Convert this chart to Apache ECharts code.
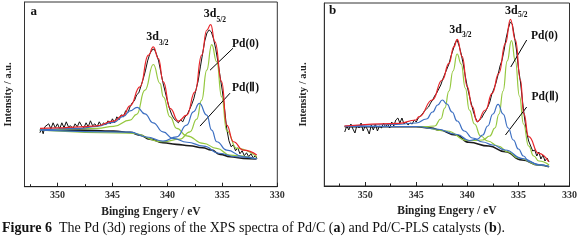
<!DOCTYPE html>
<html>
<head>
<meta charset="utf-8">
<script src="https://cdn.jsdelivr.net/npm/echarts@6/dist/echarts.min.js"></script>
<style>
html, body { margin: 0; padding: 0; background: #fff; }
#chart { width: 580px; height: 241px; }
</style>
</head>
<body>
<div id="chart"></div>
<script>
// energy axis ticks (eV)
const majorTicks = [350, 345, 340, 335, 330];
const minorTicks = [352.5, 347.5, 342.5, 337.5, 332.5];

// ---- panel a : Pd/C  ([binding energy, intensity]) ----
const aRaw = [
  [351.6,54],[351.45,58],[351.3,53],[351.15,60],[351.0,59],[350.8,63],[350.6,58],[350.4,64],[350.2,59],[350.0,63],
  [349.8,58],[349.6,64],[349.4,59],[349.2,65],[349.0,60],[348.8,61],[348.6,58],[348.4,63],[348.2,60],[348.0,65],
  [347.8,61],[347.6,59],[347.4,64],[347.2,60],[347.0,66],[346.8,61],[346.6,63],[346.4,60],[346.2,65],[346.0,61],
  [345.8,64],[345.6,62],[345.4,66],[345.2,63],[345.0,68],[344.8,64],[344.6,70],[344.4,67],[344.2,72],[344.0,70],
  [343.8,76],[343.6,74],[343.4,80],[343.2,84],[343.0,86],[342.8,92],[342.6,94],[342.4,101],[342.2,108],[342.0,116],
  [341.8,126],[341.6,133],[341.4,137],[341.2,138],[341.0,133],[340.8,126],[340.6,115],[340.4,104],[340.2,95],[340.0,86],
  [339.8,78],[339.6,72],[339.4,68],[339.2,66],[339.0,64],[338.8,67],[338.6,65],[338.4,70],[338.2,72],[338.0,77],
  [337.8,82],[337.6,88],[337.4,97],[337.2,106],[337.0,120],[336.8,133],[336.6,146],[336.4,154],[336.2,157],[336.0,155],
  [335.8,148],[335.6,138],[335.4,125],[335.2,110],[335.0,96],[334.8,78],[334.6,58],[334.4,46],[334.2,40],[334.0,42],
  [333.8,36],[333.6,39],[333.4,33],[333.2,36],[333.0,31],[332.8,34],[332.6,30],[332.4,33],[332.2,29],[332.0,31],[331.85,28]
];
const aEnvelope = [
  [351.59,58.4],[350.07,59],[347.95,60],[346.43,61],[344.92,65.7],[344.01,71.7],[343.4,81],[342.49,100],
  [341.73,131.7],[341.28,140],[340.82,128.4],[340.37,105],[339.76,78.4],[339.0,65.7],[338.24,71.7],[337.49,95],
  [336.88,131.7],[336.42,156.7],[336.06,162.4],[335.67,145],[335.06,105],[334.6,61.7],[334.0,45],[333.09,36.7],[331.87,31.7]
];
const aPd0_32 = [
  [351.6,56.7],[346.4,58.4],[344.9,60.4],[343.4,66.7],[342.8,72.4],[342.04,96.7],[341.28,122.4],[340.67,103.4],
  [340.37,90],[339.76,70],[339.15,58.4],[338.24,51],[336.73,43.4],[335.51,38.4],[334.3,31.7],[331.87,28]
];
const aPd0_52 = [
  [351.6,56.7],[343.4,53.7],[340.37,45],[338.85,47.7],[337.94,55],[337.33,67.7],[336.88,86.7],[336.42,116.7],
  [335.97,142.4],[335.51,125],[335.06,90],[334.6,56],[333.69,38.4],[331.87,30]
];
const aPd2_32 = [
  [351.6,56.8],[348.0,58.5],[346.4,60.5],[344.9,64.5],[344.0,70.5],[343.4,76],[342.75,79.4],[342.05,73],
  [341.3,64],[340.4,55],[339.5,48.5],[338.2,44.5],[336.7,40.7],[335.3,33.5],[333.8,30],[331.9,28]
];
const aPd2_52 = [
  [351.6,56.7],[343.4,54.6],[341.9,49.8],[340.4,45.6],[339.15,50],[338.24,61.7],[337.64,75],[337.09,83.4],
  [336.42,71.7],[335.97,56.7],[335.51,45],[334.6,36.7],[333.09,30],[331.87,27.7]
];
const aBackground = [
  [351.6,56.7],[348.0,56.7],[344.9,55.7],[343.4,54.4],[342.5,51.7],[341.6,47.7],[340.4,44],[339.2,42.4],
  [338.0,41],[336.8,39],[336.0,36.7],[335.2,32.4],[334.3,30],[333.1,28.4],[331.9,27.7]
];
const aArrows = [
  [[334.03,138.7],[336.12,116.7]],
  [[334.3,93.7],[337.03,60.7]]
];

// ---- panel b : Pd/C-PLS ----
const bRaw = [
  [352.0,54],[351.8,60],[351.6,56],[351.4,62],[351.2,57],[351.0,53],[350.8,61],[350.6,58],[350.4,63],[350.2,55],
  [350.0,60],[349.8,57],[349.6,52],[349.4,61],[349.2,56],[349.0,62],[348.8,55],[348.6,60],[348.4,58],[348.2,63],
  [348.0,59],[347.8,62],[347.6,58],[347.4,64],[347.2,60],[347.0,66],[346.8,68],[346.6,63],[346.4,68],[346.2,62],
  [346.0,64],[345.8,61],[345.6,63],[345.4,62],[345.2,66],[345.0,64],[344.8,68],[344.6,70],[344.4,72],[344.2,75],
  [344.0,77],[343.8,79],[343.6,83],[343.4,86],[343.2,90],[343.0,93],[342.8,97],[342.6,101],[342.4,107],[342.2,112],
  [342.0,117],[341.8,122],[341.6,130],[341.4,136],[341.2,143],[341.0,146],[340.8,140],[340.6,132],[340.4,122],[340.2,110],
  [340.0,99],[339.8,90],[339.6,82],[339.4,74],[339.2,68],[339.0,64],[338.8,66],[338.6,68],[338.4,72],[338.2,75],
  [338.0,79],[337.8,84],[337.6,92],[337.4,97],[337.2,103],[337.0,111],[336.8,120],[336.6,126],[336.4,136],[336.2,148],
  [336.0,157],[335.8,164],[335.6,162],[335.4,150],[335.2,137],[335.0,118],[334.8,104],[334.6,85],[334.4,68],[334.2,54],
  [334.0,45],[333.8,40],[333.6,35],[333.4,36],[333.2,30],[333.0,34],[332.8,27],[332.6,31],[332.4,25],[332.2,28],[332.0,24]
];
const bEnvelope = [
  [352.04,60],[346.67,62.7],[345.05,66],[344.72,69.3],[343.43,86],[342.45,106],[341.8,122.7],[341.31,139.3],
  [340.99,146.7],[340.5,129.3],[340.01,99.3],[339.52,79.3],[339.04,64.3],[338.22,76],[337.57,92.7],[336.92,112.7],
  [336.27,142.7],[335.78,166.7],[335.29,146],[334.8,106],[334.48,72.7],[334.0,49.3],[333.02,32.7],[332.04,24.3]
];
const bPd0_32 = [
  [352.0,59.5],[344.0,59.5],[343.2,60],[342.6,67],[342.2,78],[341.8,95],[341.4,115],[341.0,132],[340.6,122],
  [340.2,98],[339.8,76],[339.3,62],[338.7,50],[338.0,45],[337.0,40],[336.0,34],[335.0,28],[333.0,21],[332.0,19.5]
];
const bPd0_52 = [
  [352.0,59.5],[345.0,59.5],[342.0,55],[340.0,45.5],[339.3,45.5],[338.5,46],[337.8,50],[337.3,58],[336.9,72],
  [336.5,95],[336.1,125],[335.68,145.3],[335.3,125],[334.9,90],[334.5,62],[334.0,40],[333.5,30],[333.0,25],[332.0,21]
];
const bPd2_32 = [
  [352.0,60],[347.0,61.5],[345.0,63],[344.0,67],[343.4,74],[342.9,81],[342.45,86],[342.0,82],[341.5,74],
  [341.0,65],[340.3,55],[339.5,48],[338.5,44],[337.5,41],[336.3,36],[334.6,27.5],[333.0,21.5],[332.0,19.5]
];
const bPd2_52 = [
  [352.0,59.5],[345.0,59.5],[343.0,57],[341.0,51.5],[339.8,45.5],[339.0,47],[338.5,51],[338.0,60],[337.5,72],
  [336.99,81.7],[336.5,72],[336.0,58],[335.5,46],[335.0,37],[334.5,30],[334.0,24.5],[333.0,21],[332.0,19.5]
];
const bBackground = [
  [352.0,59.3],[345.0,59.3],[343.5,58],[342.8,56],[341.1,51],[339.85,43.7],[337.9,40],[336.3,34.3],
  [334.65,26],[333.0,21],[332.0,19.3]
];
const bArrows = [
  [[334.19,146],[335.75,119]],
  [[334.19,79],[336.27,51]]
];

const SERIF = '"Liberation Serif", "Times New Roman", serif';
const RED = '#e8252a', GREEN = '#95c83f', BLUE = '#3c6fc2', BLACK = '#111';

function curve(data, color, panel, z, opts) {
  return Object.assign({
    type: 'line',
    data: data,
    xAxisIndex: panel * 2,
    yAxisIndex: panel,
    symbol: 'none',
    smooth: 0.5,
    smoothMonotone: 'x',
    lineStyle: { color: color, width: 1.2 },
    itemStyle: { color: color },
    z: z,
    animation: false
  }, opts || {});
}

function arrows(list) {
  return {
    silent: true,
    symbol: ['none', 'arrow'],
    symbolSize: [0, 7],
    label: { show: false },
    emphasis: { disabled: true },
    lineStyle: { color: '#000', width: 1, type: 'solid' },
    data: list.map(p => [{ coord: p[0] }, { coord: p[1] }]),
    animation: false
  };
}

function panelSeries(p, raw, env, pd0a, pd0b, pd2a, pd2b, bg, arr) {
  return [
    curve(raw, BLACK, p, 3, { smooth: false, lineStyle: { color: BLACK, width: 1 } }),
    curve(bg, '#1a1a1a', p, 2, { lineStyle: { color: '#1a1a1a', width: 1.6 } }),
    curve(pd0a, GREEN, p, 4),
    curve(pd0b, GREEN, p, 4),
    curve(pd2a, BLUE, p, 5),
    curve(pd2b, BLUE, p, 5, { markLine: arrows(arr) }),
    curve(env, RED, p, 6)
  ];
}

function xAxes(grid, max) {
  const line = { lineStyle: { color: '#222', width: 1.2 } };
  return [{
    gridIndex: grid, type: 'value', inverse: true, min: 330, max: max, position: 'bottom',
    axisLine: line,
    axisTick: { inside: true, length: 4, customValues: majorTicks, lineStyle: { color: '#222' } },
    axisLabel: { customValues: majorTicks, margin: 4, fontFamily: SERIF, fontWeight: 'bold', fontSize: 10, color: '#333' },
    splitLine: { show: false },
    name: 'Binging Engery / eV', nameLocation: 'middle', nameGap: grid ? 17 : 15,
    nameTextStyle: { fontFamily: SERIF, fontWeight: 'bold', fontSize: 11.5, color: '#222' }
  }, {
    gridIndex: grid, type: 'value', inverse: true, min: 330, max: max, position: 'bottom',
    axisLine: { show: false },
    axisTick: { inside: true, length: 2.5, customValues: minorTicks, lineStyle: { color: '#222' } },
    axisLabel: { show: false },
    splitLine: { show: false }
  }];
}

function yAxis(grid, max, gap) {
  return {
    gridIndex: grid, type: 'value', min: 0, max: max,
    axisLine: { show: true, lineStyle: { color: '#333', width: 1 } },
    axisTick: { show: false }, axisLabel: { show: false }, splitLine: { show: false },
    name: 'Intensity / a.u.', nameLocation: 'middle', nameRotate: 90, nameGap: gap,
    nameTextStyle: { fontFamily: SERIF, fontWeight: 'bold', fontSize: 10.5, color: '#222' }
  };
}

function txt(x, y, text, size, align) {
  return {
    type: 'text', x: x, y: y, silent: true,
    style: { text: text, fontFamily: SERIF, fontWeight: 'bold', fontSize: size, fill: '#111',
             align: align || 'center', verticalAlign: 'middle' }
  };
}

const chart = echarts.init(document.getElementById('chart'));
chart.setOption({
  backgroundColor: '#fff',
  animation: false,
  grid: [
    { left: 24.5, top: 2, right: 302.7, bottom: 54.3, show: true, borderColor: '#333', borderWidth: 1 },
    { left: 324.3, top: 3, right: 9, bottom: 55, show: true, borderColor: '#333', borderWidth: 1 }
  ],
  xAxis: xAxes(0, 353).concat(xAxes(1, 354)),
  yAxis: [yAxis(0, 185, 11), yAxis(1, 183, 16)],
  series: panelSeries(0, aRaw, aEnvelope, aPd0_32, aPd0_52, aPd2_32, aPd2_52, aBackground, aArrows)
    .concat(panelSeries(1, bRaw, bEnvelope, bPd0_32, bPd0_52, bPd2_32, bPd2_52, bBackground, bArrows)),
  graphic: [
    txt(33.7, 12, 'a', 13),
    txt(152.5, 37, '3d', 12), txt(159, 43, '3/2', 7.5, 'left'),
    txt(210, 14, '3d', 12), txt(216.5, 20, '5/2', 7.5, 'left'),
    txt(232, 44, 'Pd(0)', 11.5, 'left'),
    txt(232, 88.5, 'Pd(Ⅱ)', 11.5, 'left'),
    txt(332.7, 10.5, 'b', 13),
    txt(455.5, 30, '3d', 12), txt(462, 35.5, '3/2', 7.5, 'left'),
    txt(511.3, 10.5, '3d', 12), txt(518, 15.5, '5/2', 7.5, 'left'),
    txt(531, 36.5, 'Pd(0)', 11.5, 'left'),
    txt(531.5, 96.7, 'Pd(Ⅱ)', 11.5, 'left'),
    {
      type: 'text', x: 2, y: 228, silent: true,
      style: {
        text: '{b|Figure 6}  The Pd (3d) regions of the XPS spectra of Pd/C ({b|a}) and Pd/C-PLS catalysts ({b|b}).',
        fontFamily: SERIF, fontSize: 14, fill: '#111', align: 'left', verticalAlign: 'middle',
        rich: { b: { fontFamily: SERIF, fontSize: 14, fontWeight: 'bold', fill: '#111' } }
      }
    }
  ]
});
</script>
</body>
</html>
